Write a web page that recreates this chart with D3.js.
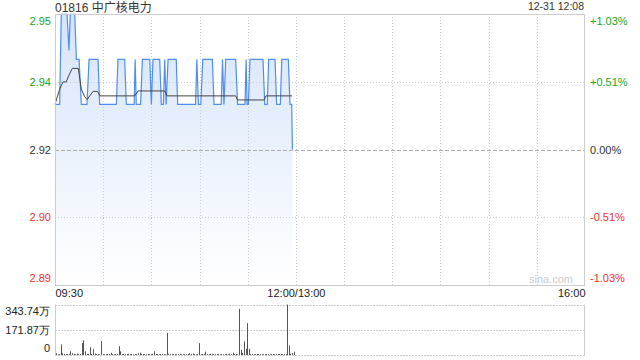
<!DOCTYPE html>
<html>
<head>
<meta charset="utf-8">
<script src="https://cdn.jsdelivr.net/npm/d3@7"></script>
<style>
  body { margin: 0; background: #fff; }
  svg { display: block; font-family: Arial, "Liberation Sans", "Noto Sans CJK SC", sans-serif; }
</style>
</head>
<body>
<script>
// header
var title = "01816 中广核电力";
var stamp = "12-31 12:08";

// price axis
var prevClose = 2.92;
var pctLevels = [0.0103, 0.00515, 0, -0.00515, -0.0103];
var priceLabels = ["2.95", "2.94", "2.92", "2.90", "2.89"];
var pctLabels = ["+1.03%", "+0.51%", "0.00%", "-0.51%", "-1.03%"];

// time axis (minutes since 09:30, lunch break removed)
var xLabels = ["09:30", "12:00/13:00", "16:00"];
var xLabelMin = [0, 150, 330];

// price line, read at its turning points
var priceMin = [0, 2.9, 3.9, 7.5, 8.7, 9.5, 12.3, 13.3, 15, 16.4, 19.9, 21.2, 26.8, 27.8, 38.2, 39.2, 43.4, 44.4,
  49.3, 49.9, 50.6, 53.3, 54.4, 59, 60, 61, 65.2, 66.2, 67.5, 68.3, 69.2, 70.4, 75.5, 76.4, 87.5, 88.3, 89.3,
  90.8, 92, 98, 99, 103.5, 104.3, 105.2, 106.3, 112.5, 113.7, 118.3, 119, 119.6, 120.4, 121.4, 129.5, 130.6,
  132.2, 133, 137, 138, 140.3, 141.2, 145.3, 146.3, 147.4, 147.8];
var priceVal = [2.93, 2.93, 2.95, 2.95, 2.942, 2.95, 2.95, 2.94, 2.94, 2.93, 2.93, 2.94, 2.94, 2.93, 2.93, 2.94, 2.94, 2.93,
  2.93, 2.94, 2.93, 2.93, 2.94, 2.94, 2.93, 2.94, 2.94, 2.93, 2.93, 2.94, 2.93, 2.94, 2.94, 2.93, 2.93, 2.94, 2.93,
  2.93, 2.94, 2.94, 2.93, 2.93, 2.94, 2.93, 2.94, 2.94, 2.93, 2.93, 2.94, 2.93, 2.93, 2.94, 2.94, 2.93,
  2.93, 2.94, 2.94, 2.93, 2.93, 2.94, 2.94, 2.93, 2.93, 2.92];

// average price line
var avgMin = [0, 2.9, 5, 7, 8.7, 10.8, 14.5, 16.4, 18.5, 20, 21.6, 23.7, 26.5, 28, 49.6, 51.7, 68.3, 69.8, 112.5, 113.7, 130.3, 131.3, 147.6];
var avgVal = [2.930, 2.9334, 2.935, 2.935, 2.9365, 2.938, 2.938, 2.9334, 2.9317, 2.9311, 2.9319, 2.9329, 2.9329, 2.9319, 2.9319, 2.933, 2.933, 2.9319, 2.9319, 2.931, 2.931, 2.9319, 2.9319];

// volume per minute (万 shares), 09:30 onwards
var volume = [
  12, 5, 6, 72, 12, 8, 6, 7, 5, 25,
  12, 8, 6, 10, 7, 6, 81, 99, 25, 8,
  8, 53, 7, 39, 10, 7, 6, 5, 95, 6,
  5, 6, 7, 7, 15, 6, 5, 6, 7, 60,
  25, 6, 8, 5, 6, 8, 7, 6, 5, 7,
  6, 12, 16, 8, 7, 6, 5, 6, 7, 6,
  8, 25, 7, 6, 5, 6, 7, 6, 5, 150,
  8, 6, 5, 7, 6, 5, 6, 7, 6, 5,
  6, 7, 6, 12, 6, 10, 6, 5, 6, 81,
  6, 7, 8, 23, 7, 6, 8, 6, 5, 6,
  7, 6, 5, 6, 5, 6, 7, 6, 8, 6,
  16, 6, 7, 5, 314, 35, 14, 92, 42, 217,
  42, 6, 7, 6, 5, 6, 7, 6, 6, 5,
  6, 7, 6, 5, 6, 7, 6, 5, 6, 7,
  6, 5, 6, 7, 343.74, 65, 8, 14, 23];
var volLevels = [343.74, 171.87, 0];
var volLabels = ["343.74万", "171.87万", "0"];

var W = 640, H = 360;
var pL = 55, pR = 585, pT = 14, pB = 285;
var vT = 304.5, vB = 355;
var green = "#22a522", red = "#f03030", ink = "#333";

var svg = d3.select("body").append("svg").attr("width", W).attr("height", H);

var x = d3.scaleLinear().domain([0, 330]).range([pL, pR]);
var y = d3.scaleLinear()
  .domain([prevClose * (1 - 0.0103), prevClose * (1 + 0.0103)])
  .range([pB, pT]);
var yv = d3.scaleLinear().domain([0, 343.74]).range([vB, vT]);

var levels = pctLevels.map(function (p) { return prevClose * (1 + p); });
var colorOf = function (i) { return i < 2 ? green : i > 2 ? red : ink; };

// gradient for the area
var grad = svg.append("defs").append("linearGradient")
  .attr("id", "fill").attr("gradientUnits", "userSpaceOnUse")
  .attr("x1", 0).attr("y1", pT).attr("x2", 0).attr("y2", pB);
grad.append("stop").attr("offset", 0).attr("stop-color", "#d6e4fa");
grad.append("stop").attr("offset", 1).attr("stop-color", "#ffffff");

// price area first, grid sits on top of it
var pts = priceMin.map(function (m, i) { return [m, priceVal[i]]; });
svg.append("path").datum(pts)
  .attr("fill", "url(#fill)")
  .attr("d", d3.area().x(function (d) { return x(d[0]); }).y0(pB).y1(function (d) { return y(d[1]); }));

var grid = svg.append("g");
d3.range(30, 330, 30).forEach(function (m) {
  grid.append("line")
    .attr("x1", Math.round(x(m)) + 0.5).attr("x2", Math.round(x(m)) + 0.5)
    .attr("y1", pT).attr("y2", pB)
    .attr("stroke", "#ccc").attr("stroke-dasharray", "1,2");
});
levels.slice(1, 4).forEach(function (v, i) {
  grid.append("line")
    .attr("x1", pL).attr("x2", pR)
    .attr("y1", Math.round(y(v)) + 0.5).attr("y2", Math.round(y(v)) + 0.5)
    .attr("stroke", i == 1 ? "#aaa" : "#ccc")
    .attr("stroke-dasharray", i == 1 ? "4,2" : "1,2");
});

svg.append("text").attr("x", 573).attr("y", 283).attr("text-anchor", "end")
  .attr("font-size", 11).attr("fill", "#ccc").text("sina.com");

svg.append("path").datum(pts)
  .attr("fill", "none").attr("stroke", "#4d8ef0").attr("stroke-width", 1.2)
  .attr("d", d3.line().x(function (d) { return x(d[0]); }).y(function (d) { return y(d[1]); }));

var avgPts = avgMin.map(function (m, i) { return [m, avgVal[i]]; });
svg.append("path").datum(avgPts)
  .attr("fill", "none").attr("stroke", "#444").attr("stroke-width", 1)
  .attr("d", d3.line().x(function (d) { return x(d[0]); }).y(function (d) { return y(d[1]); }));

// border of main panel
svg.append("rect").attr("x", pL + 0.5).attr("y", pT + 0.5)
  .attr("width", pR - pL - 1).attr("height", pB - pT)
  .attr("fill", "none").attr("stroke", "#ccc");

// axes
var axL = svg.append("g").attr("transform", "translate(" + pL + ",0)")
  .call(d3.axisLeft(y).tickValues(levels).tickSize(0).tickPadding(4)
    .tickFormat(function (d, i) { return priceLabels[i]; }));
var axR = svg.append("g").attr("transform", "translate(" + pR + ",0)")
  .call(d3.axisRight(y).tickValues(levels).tickSize(0).tickPadding(5)
    .tickFormat(function (d, i) { return pctLabels[i]; }));
[axL, axR].forEach(function (g) {
  g.select(".domain").remove();
  g.selectAll(".tick text")
    .attr("font-size", 11).attr("font-family", null)
    .attr("fill", function (d, i) { return colorOf(i); })
    .attr("dy", function (d, i) { return i == 0 ? "0.92em" : i == 4 ? "-0.3em" : "0.32em"; });
});

var axB = svg.append("g").attr("transform", "translate(0," + pB + ")")
  .call(d3.axisBottom(x).tickValues(xLabelMin).tickSize(0).tickPadding(4)
    .tickFormat(function (d, i) { return xLabels[i]; }));
axB.select(".domain").remove();
axB.selectAll(".tick text")
  .attr("font-size", 11).attr("font-family", null).attr("fill", "#222")
  .attr("text-anchor", function (d, i) { return i == 0 ? "start" : i == 2 ? "end" : "middle"; });

// header texts
svg.append("text").attr("x", pL).attr("y", 12).attr("font-size", 12).attr("fill", ink).text(title);
svg.append("text").attr("x", pR - 1).attr("y", 10).attr("text-anchor", "end")
  .attr("font-size", 10.5).attr("fill", ink).text(stamp);

// volume panel
volLevels.forEach(function (v) {
  svg.append("line").attr("x1", pL).attr("x2", pR)
    .attr("y1", Math.round(yv(v)) + 0.5).attr("y2", Math.round(yv(v)) + 0.5)
    .attr("stroke", "#ccc").attr("stroke-dasharray", "2,1");
});
[pL + 0.5, pR - 0.5].forEach(function (xx) {
  svg.append("line").attr("x1", xx).attr("x2", xx).attr("y1", vT).attr("y2", vB)
    .attr("stroke", "#ccc");
});
svg.append("g").selectAll("rect").data(volume).enter().append("rect")
  .attr("x", function (d, i) { return Math.round(x(i)) + 1; })
  .attr("width", 1)
  .attr("y", function (d) { return yv(d); })
  .attr("height", function (d) { return vB - yv(d); })
  .attr("fill", "#555");

var axV = svg.append("g").attr("transform", "translate(" + pL + ",0)")
  .call(d3.axisLeft(yv).tickValues(volLevels).tickSize(0).tickPadding(5)
    .tickFormat(function (d, i) { return volLabels[i]; }));
axV.select(".domain").remove();
axV.selectAll(".tick text")
  .attr("font-size", 11).attr("font-family", null).attr("fill", "#222")
  .attr("dy", function (d, i) { return i == 0 ? "0.9em" : i == 2 ? "-0.28em" : "0.32em"; });
</script>
</body>
</html>
